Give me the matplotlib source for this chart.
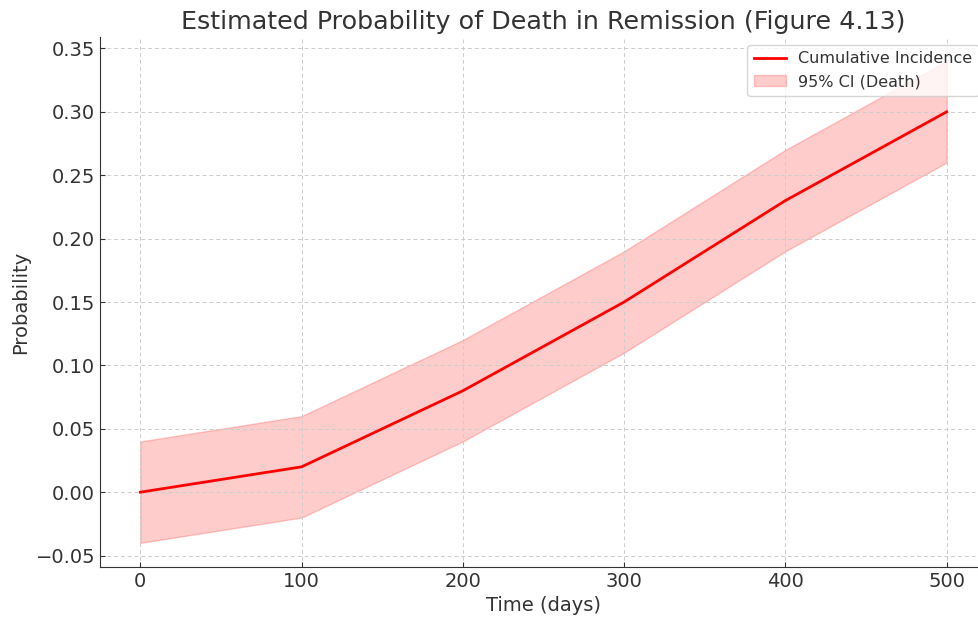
import matplotlib.pyplot as plt

# time points and estimates
time_days = [0, 100, 200, 300, 400, 500]
cum_incidence = [0.00, 0.02, 0.08, 0.15, 0.23, 0.30]
ci_lower = [-0.04, -0.02, 0.04, 0.11, 0.19, 0.26]
ci_upper = [0.04, 0.06, 0.12, 0.19, 0.27, 0.34]

plt.rcParams['text.color'] = '#333333'
plt.rcParams['axes.labelcolor'] = '#333333'
plt.rcParams['xtick.color'] = '#333333'
plt.rcParams['ytick.color'] = '#333333'

fig = plt.figure(figsize=(9.79, 6.17), dpi=100)
ax = fig.add_axes([100 / 979, 50 / 617, 887 / 979, 530 / 617])

ax.plot(time_days, cum_incidence, color='red', linewidth=2, label='Cumulative Incidence')
ax.fill_between(time_days, ci_lower, ci_upper, color='red', alpha=0.2, label='95% CI (Death)')

ax.set_title('Estimated Probability of Death in Remission (Figure 4.13)', fontsize=18.3)
ax.set_xlabel('Time (days)', fontsize=14)
ax.set_ylabel('Probability', fontsize=14)
ax.tick_params(direction='in', labelsize=14, color='#333333')
ax.set_yticks([-0.05, 0, 0.05, 0.10, 0.15, 0.20, 0.25, 0.30, 0.35])
ax.grid(True, linestyle=(0, (4, 3)), color='#cccccc', linewidth=0.7)
ax.spines['top'].set_visible(False)
ax.spines['right'].set_visible(False)
ax.spines['left'].set_color('#333333')
ax.spines['bottom'].set_color('#333333')
ax.legend(loc='upper right', fontsize=11.5)

fig.savefig('out.png', dpi=100)
